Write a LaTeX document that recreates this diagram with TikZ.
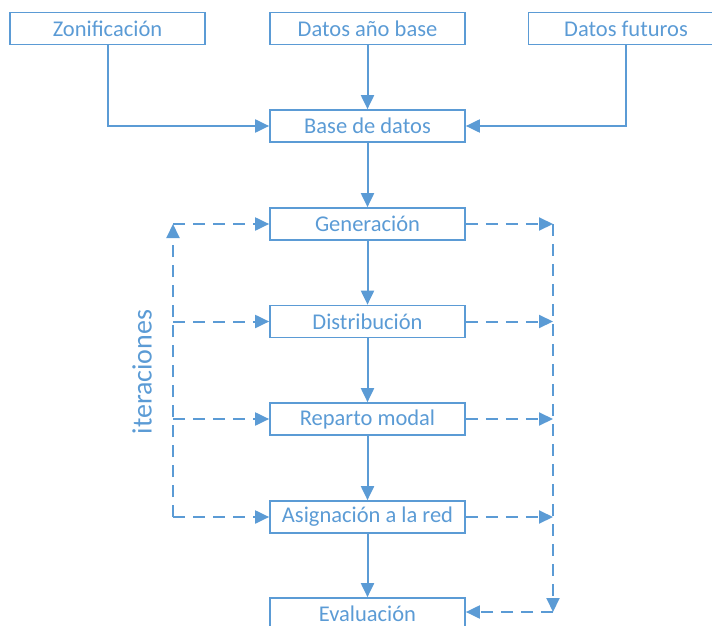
\documentclass[tikz,border=0pt]{standalone}
\usepackage{fontspec}
\setmainfont{Carlito}
\usetikzlibrary{arrows.meta}
\definecolor{flow}{HTML}{5B9BD5}
\begin{document}
\begin{tikzpicture}[x=1pt,y=-1pt,
  stage/.style={draw=flow,line width=1.7pt,minimum width=195pt,minimum height=32pt,
    inner sep=0pt,text=flow,font=\fontsize{22.5}{25}\selectfont},
  link/.style={draw=flow,line width=2pt,-{Triangle[length=14pt,width=13pt]}},
  loop/.style={link,dash pattern=on 12pt off 8pt}]
\useasboundingbox (0,0) rectangle (712,626);
% input data
\node[stage] (zon) at (107.5,28.5) {Zonificación};
\node[stage] (base) at (367.5,28.5) {Datos año base};
\node[stage] (fut) at (626,28.5) {Datos futuros};
% model stages
\node[stage] (bd) at (367.5,126) {Base de datos};
\node[stage] (gen) at (367.5,224) {Generación};
\node[stage] (dis) at (367.5,321.5) {Distribución};
\node[stage] (rep) at (367.5,419) {Reparto modal};
\node[stage] (asg) at (367.5,517) {Asignación a la red};
\node[stage] (eva) at (367.5,614) {Evaluación};
% iteration points
\coordinate (lt) at (173,224);
\coordinate (lb) at (173,517);
\coordinate (rt) at (553,224);
\coordinate (rb) at (553,612);
\node[text=flow,rotate=90,font=\fontsize{28}{31}\selectfont] (it) at (142,372) {iteraciones};
% solid flow
\draw[link] (zon.south) |- (bd.west);
\draw[link] (fut.south) |- (bd.east);
\draw[link] (base) -- (bd);
\draw[link] (bd) -- (gen);
\draw[link] (gen) -- (dis);
\draw[link] (dis) -- (rep);
\draw[link] (rep) -- (asg);
\draw[link] (asg) -- (eva);
% left feedback
\draw[loop] (lb) -- (lt);
\draw[loop] (lt) -- (gen.west);
\draw[loop] (lt |- dis.west) -- (dis.west);
\draw[loop] (lt |- rep.west) -- (rep.west);
\draw[loop] (lb) -- (asg.west);
% right feedback
\draw[loop] (gen.east) -- (rt);
\draw[loop] (dis.east) -- (rt |- dis.east);
\draw[loop] (rep.east) -- (rt |- rep.east);
\draw[loop] (asg.east) -- (rt |- asg.east);
\draw[loop] (rt) -- (rb);
\draw[loop] (rb) -- (eva.east |- rb);
\end{tikzpicture}
\end{document}
